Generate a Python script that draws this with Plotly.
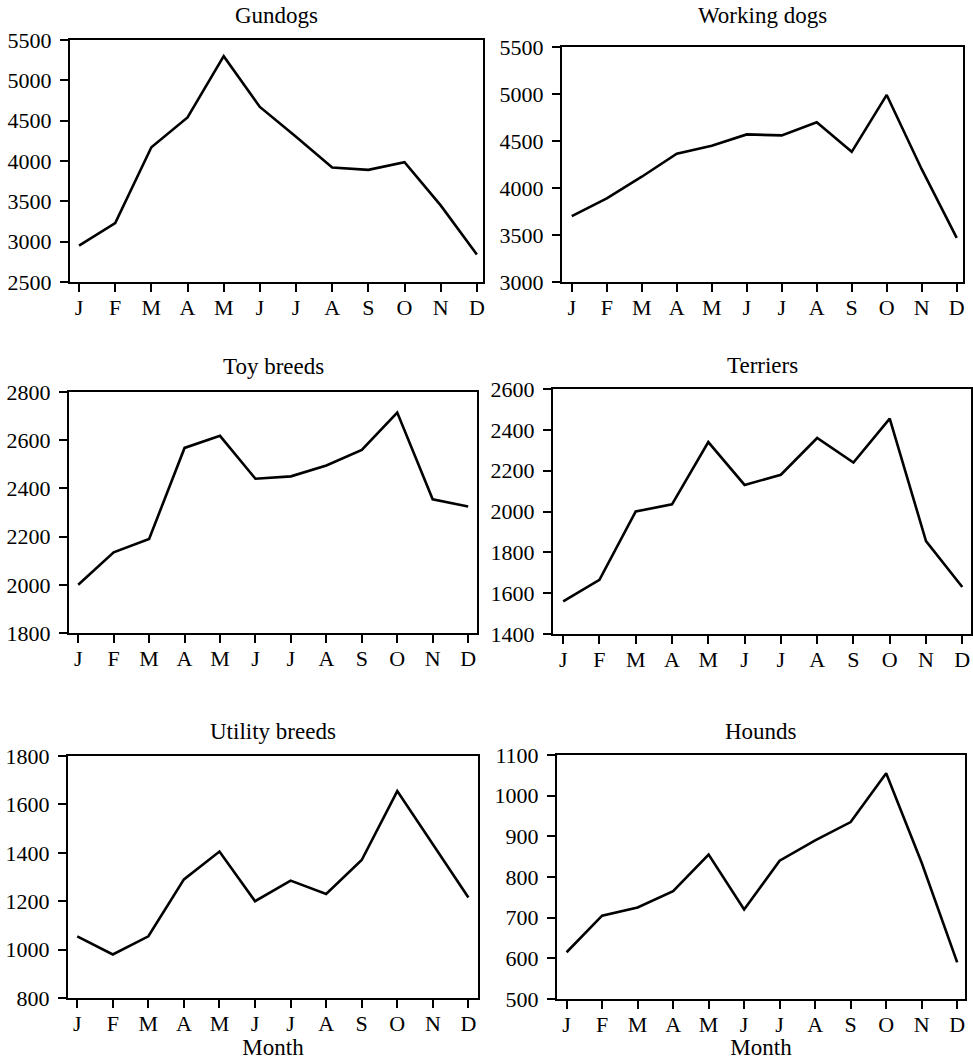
#!/usr/bin/env python3

import sys

import plotly.graph_objects as go

MONTHS = ['J', 'F', 'M', 'A', 'M', 'J', 'J', 'A', 'S', 'O', 'N', 'D']

GUNDOGS = [2950, 3230, 4170, 4540, 5300, 4670, 4300, 3920, 3890, 3985, 3450, 2840]
WORKING_DOGS = [3700, 3890, 4120, 4365, 4450, 4570, 4560, 4700, 4385, 4990, 4200, 3470]
TOY_BREEDS = [2000, 2135, 2190, 2568, 2618, 2440, 2450, 2495, 2560, 2715, 2355, 2325]
TERRIERS = [1560, 1665, 2000, 2035, 2340, 2130, 2180, 2360, 2240, 2455, 1855, 1630]
UTILITY_BREEDS = [1055, 980, 1055, 1290, 1405, 1200, 1285, 1230, 1370, 1655, 1435, 1215]
HOUNDS = [615, 705, 725, 765, 855, 720, 840, 890, 935, 1055, 835, 590]

TITLES = ['Gundogs', 'Working dogs', 'Toy breeds', 'Terriers',
          'Utility breeds', 'Hounds']
SERIES = [GUNDOGS, WORKING_DOGS, TOY_BREEDS, TERRIERS, UTILITY_BREEDS, HOUNDS]

# y axis limits and tick step per panel
Y_AXES = [(2500, 5500, 500), (3000, 5500, 500), (1800, 2800, 200),
          (1400, 2600, 200), (800, 1800, 200), (500, 1100, 100)]

W, H = 973, 1060

# panel boxes in pixels: left, right, top, bottom
BOXES = [(70, 483, 40, 282), (562, 963, 47, 282),
         (69, 477, 392, 633), (553, 971, 389, 634),
         (68, 478, 756, 998), (557, 965, 755, 999)]
X_RANGES = [(-0.25, 11.17), (-0.28, 11.18), (-0.26, 11.25),
            (-0.28, 11.24), (-0.26, 11.27), (-0.27, 11.22)]
# bottom of the title text for each row, in pixels
TITLE_BOTTOM = [30, 30, 381, 380, 746, 746]

FONT = 'Liberation Serif'


def main():
    fig = go.Figure()

    for i, (title, values) in enumerate(zip(TITLES, SERIES)):
        n = '' if i == 0 else str(i + 1)
        left, right, top, bottom = BOXES[i]
        lo, hi, step = Y_AXES[i]

        fig.add_trace(go.Scatter(
            x=list(range(len(MONTHS))),
            y=values,
            mode='lines',
            line=dict(color='black', width=2.6),
            xaxis='x' + n,
            yaxis='y' + n,
            showlegend=False,
        ))

        axis_common = dict(
            showline=True, linecolor='black', linewidth=2, mirror=True,
            ticks='outside', ticklen=8, tickwidth=2, tickcolor='black',
            showgrid=False, zeroline=False, automargin=False,
        )
        fig.layout['xaxis' + n] = dict(
            domain=[left / W, right / W],
            anchor='y' + n,
            range=list(X_RANGES[i]),
            tickvals=list(range(len(MONTHS))),
            ticktext=MONTHS,
            tickfont=dict(family=FONT, size=22, color='black'),
            ticklabelstandoff=-3,
            title=dict(text='Month' if i >= 4 else '',
                       font=dict(family=FONT, size=23, color='black'),
                       standoff=0),
            **axis_common,
        )
        fig.layout['yaxis' + n] = dict(
            domain=[1 - bottom / H, 1 - top / H],
            anchor='x' + n,
            range=[lo, hi],
            tickvals=list(range(lo, hi + 1, step)),
            tickfont=dict(family=FONT, size=22, color='black'),
            ticklabelstandoff=4,
            **axis_common,
        )

        fig.add_annotation(
            text=title,
            x=(left + right) / 2 / W,
            y=1 - TITLE_BOTTOM[i] / H,
            xref='paper', yref='paper',
            xanchor='center', yanchor='bottom',
            showarrow=False,
            font=dict(family=FONT, size=23, color='black'),
        )

    fig.update_layout(
        width=W, height=H,
        margin=dict(l=0, r=0, t=0, b=0),
        paper_bgcolor='white',
        plot_bgcolor='white',
    )

    # drop the default page margin so the figure fills the window
    fig.write_html('out.html',
                   config={'displayModeBar': False},
                   post_script="document.body.style.margin = '0';")
    return 0


if __name__ == '__main__':
    sys.exit(main())
